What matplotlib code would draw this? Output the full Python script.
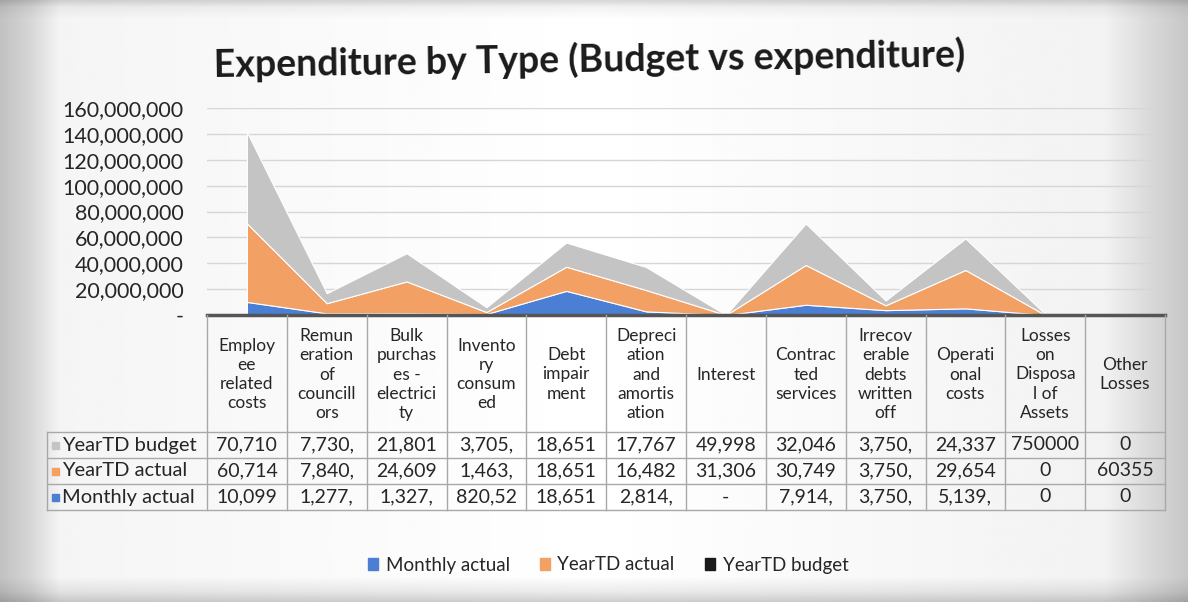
import numpy as np
import matplotlib.pyplot as plt
from matplotlib.patches import Patch, Rectangle

plt.rcParams['font.family'] = ['Lato', 'DejaVu Sans']

# Categories (wrapped the way the data table shows them)
categories = [
    "Employ\nee\nrelated\ncosts",
    "Remun\neration\nof\ncouncill\nors",
    "Bulk\npurchas\nes -\nelectrici\nty",
    "Invento\nry\nconsum\ned",
    "Debt\nimpair\nment",
    "Depreci\nation\nand\namortis\nation",
    "Interest",
    "Contrac\nted\nservices",
    "Irrecov\nerable\ndebts\nwritten\noff",
    "Operati\nonal\ncosts",
    "Losses\non\nDisposa\nl of\nAssets",
    "Other\nLosses",
]

# Series values (table cells are cut off, so trailing digits are estimated)
year_budget = [70_710_000, 7_730_000, 21_801_000, 3_705_000, 18_651_000, 17_767_000,
               49_998, 32_046_000, 3_750_000, 24_337_000, 750_000, 0]
year_actual = [60_714_000, 7_840_000, 24_609_000, 1_463_000, 18_651_000, 16_482_000,
               31_306, 30_749_000, 3_750_000, 29_654_000, 0, 60_355]
monthly_actual = [10_099_000, 1_277_000, 1_327_000, 820_520, 18_651_000, 2_814_000,
                  0, 7_914_000, 3_750_000, 5_139_000, 0, 0]

# What the data table prints for each series
budget_txt = ["70,710", "7,730,", "21,801", "3,705,", "18,651", "17,767",
              "49,998", "32,046", "3,750,", "24,337", "750000", "0"]
actual_txt = ["60,714", "7,840,", "24,609", "1,463,", "18,651", "16,482",
              "31,306", "30,749", "3,750,", "29,654", "0", "60355"]
monthly_txt = ["10,099", "1,277,", "1,327,", "820,52", "18,651", "2,814,",
               "-", "7,914,", "3,750,", "5,139,", "0", "0"]

series_names = ["Monthly actual", "YearTD actual", "YearTD budget"]
y_ticks = [0, 20e6, 40e6, 60e6, 80e6, 100e6, 120e6, 140e6, 160e6]
y_tick_labels = ["-", "20,000,000", "40,000,000", "60,000,000", "80,000,000",
                 "100,000,000", "120,000,000", "140,000,000", "160,000,000"]

blue, orange, gray = "#4a7fd4", "#f2a064", "#c4c4c4"
text_col = "#262626"
line_col = "#a8a8a8"

W, H = 1188, 602
fig = plt.figure(figsize=(W / 100, H / 100), dpi=100)

# Photo-like background: white sheet with grey edges
bg = fig.add_axes([0, 0, 1, 1])
bg.axis("off")
xs = np.linspace(0, 1, 600)
hshade = np.interp(xs, [0, 0.025, 0.05, 0.5, 0.93, 0.97, 1],
                   [0.76, 0.84, 0.96, 1.0, 0.95, 0.85, 0.78])
ys = np.linspace(0, 1, 300)
vshade = np.interp(ys, [0, 0.01, 0.03, 0.96, 0.985, 1],
                   [0.85, 0.95, 1.0, 1.0, 0.92, 0.82])
bg.imshow(np.outer(vshade, hshade), cmap="gray", vmin=0, vmax=1,
          aspect="auto", extent=[0, 1, 0, 1])
bg.set_xlim(0, 1)
bg.set_ylim(0, 1)

fig.text(0.5 - 5 / W, 1 - 60 / H, "Expenditure by Type (Budget vs expenditure)",
         ha="center", va="center", fontsize=27, fontweight="bold",
         color="#1a1a1a", rotation=0.8)

# Stacked area chart
n = len(categories)
x = np.arange(n)
ax = fig.add_axes([207 / W, 1 - 315 / H, (1165 - 207) / W, (315 - 108) / H])
ax.set_facecolor("none")
ax.stackplot(x, monthly_actual, year_actual, year_budget,
             colors=[blue, orange, gray], edgecolor="white", linewidth=0.8,
             labels=series_names)
ax.set_xlim(-0.5, n - 0.5)
ax.set_ylim(0, 160e6)
ax.set_yticks(y_ticks)
ax.set_yticklabels(y_tick_labels, fontsize=15.5, color=text_col)
ax.set_xticks([])
ax.grid(axis="y", color="#d6d6d6", linewidth=1)
ax.set_axisbelow(True)
for s in ["left", "right", "top"]:
    ax.spines[s].set_visible(False)
ax.spines["bottom"].set_color("#555555")
ax.spines["bottom"].set_linewidth(2.5)
ax.tick_params(axis="y", length=0, pad=17)

# Data table under the chart
tax = fig.add_axes([207 / W, 1 - 510 / H, (1165 - 207) / W, (510 - 315) / H])
tax.set_xlim(-0.5, n - 0.5)
tax.set_ylim(195, 0)
tax.axis("off")

head_h, row_h = 117, 26
row_tops = [head_h + k * row_h for k in range(3)]

for i in range(n + 1):
    tax.plot([i - 0.5, i - 0.5], [0, 195], color=line_col, lw=1, clip_on=False)
tax.plot([-2.5, -2.5], [head_h, 195], color=line_col, lw=1, clip_on=False)
for yl in row_tops + [195]:
    tax.plot([-2.5, n - 0.5], [yl, yl], color=line_col, lw=1, clip_on=False)

for i, cat in enumerate(categories):
    tax.text(i, head_h / 2 + 1, cat, ha="center", va="center", fontsize=12.5,
             linespacing=1.25, color=text_col)

rows = [("YearTD budget", gray, budget_txt),
        ("YearTD actual", orange, actual_txt),
        ("Monthly actual", blue, monthly_txt)]
for (name, col, txts), top in zip(rows, row_tops):
    yc = top + row_h / 2
    tax.add_patch(Rectangle((-2.44, yc - 3.5), 0.08, 7, color=col, clip_on=False))
    tax.text(-2.32, yc, name, ha="left", va="center", fontsize=14.5,
             color=text_col, clip_on=False)
    for i, t in enumerate(txts):
        tax.text(i, yc, t, ha="center", va="center", fontsize=14, color=text_col)

handles = [Patch(color=blue), Patch(color=orange), Patch(color="#1a1a1a")]
fig.legend(handles, series_names, loc="center", bbox_to_anchor=(608 / W, 1 - 565 / H),
           ncol=3, frameon=False, fontsize=13.5, handlelength=0.55, handleheight=0.55,
           handletextpad=0.4, columnspacing=1.6, labelcolor=text_col)

fig.savefig("out.png", dpi=100)
